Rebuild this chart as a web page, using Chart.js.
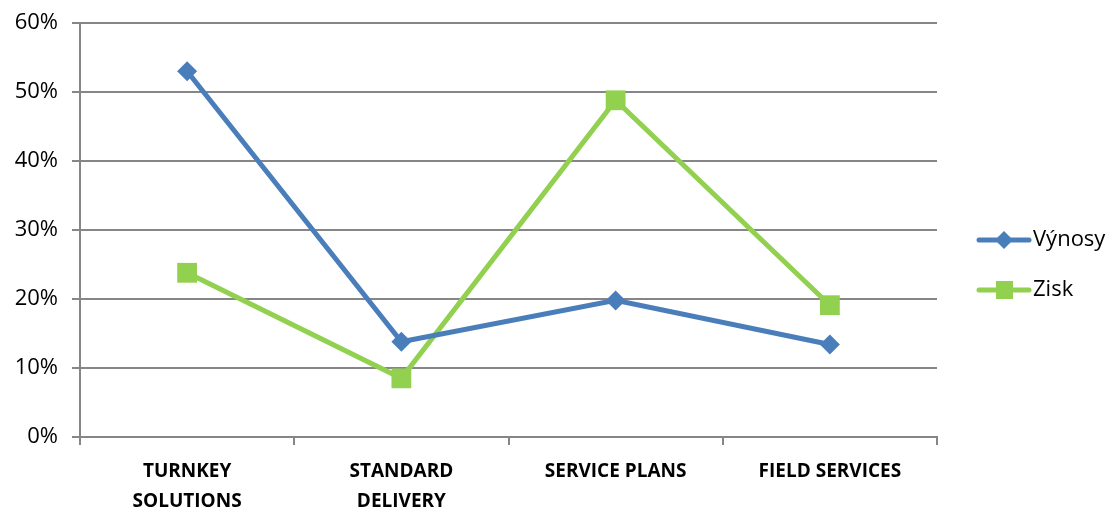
<!DOCTYPE html>
<html>
<head>
<meta charset="utf-8">
<script src="https://cdn.jsdelivr.net/npm/chart.js@4/dist/chart.umd.min.js"></script>
<style>
  html, body { margin: 0; padding: 0; background: #fff; }
  #wrap { width: 1116px; height: 513px; }
</style>
</head>
<body>
<div id="wrap"><canvas id="chart"></canvas></div>
<script>
// data
var categories = [["TURNKEY", "SOLUTIONS"], ["STANDARD", "DELIVERY"], "SERVICE PLANS", "FIELD SERVICES"];
var seriesNames = ["Výnosy", "Zisk"];
var vynosy = [53, 13.8, 19.8, 13.4];   // % revenue
var zisk = [23.8, 8.5, 48.8, 19.1];     // % profit
var yTicks = [0, 10, 20, 30, 40, 50, 60];

var blue = "#4A7EBB";
var green = "#92D050";
var gridCol = "#868686";
var fontFam = "'Open Sans', 'Liberation Sans', sans-serif";

// draws the excel-like legend on the right (line + marker + label)
var sideLegend = {
  id: "sideLegend",
  afterDraw: function (chart) {
    var ctx = chart.ctx;
    var ys = [240, 290];
    chart.data.datasets.forEach(function (ds, i) {
      var y = ys[i];
      ctx.save();
      ctx.strokeStyle = ds.borderColor;
      ctx.lineWidth = 5;
      ctx.lineCap = "round";
      ctx.beginPath();
      ctx.moveTo(979, y);
      ctx.lineTo(1029, y);
      ctx.stroke();
      ctx.fillStyle = ds.backgroundColor;
      if (ds.pointStyle === "rectRot") {
        ctx.beginPath();
        ctx.moveTo(1004, y - 9);
        ctx.lineTo(1013, y);
        ctx.lineTo(1004, y + 9);
        ctx.lineTo(995, y);
        ctx.closePath();
        ctx.fill();
      } else {
        ctx.fillRect(996, y - 9, 17, 18);
      }
      ctx.fillStyle = "#000";
      ctx.font = "22px " + fontFam;
      ctx.textBaseline = "middle";
      ctx.textAlign = "left";
      ctx.fillText(ds.label, 1033, y);
      ctx.restore();
    });
  }
};

new Chart(document.getElementById("chart"), {
  type: "line",
  data: {
    labels: categories,
    datasets: [
      {
        label: seriesNames[0],
        data: vynosy,
        borderColor: blue,
        backgroundColor: blue,
        borderWidth: 5,
        pointStyle: "rectRot",
        pointRadius: 10,
        pointHoverRadius: 10,
        pointBorderWidth: 0,
        tension: 0
      },
      {
        label: seriesNames[1],
        data: zisk,
        borderColor: green,
        backgroundColor: green,
        borderWidth: 5,
        pointStyle: "rect",
        pointRadius: 14,
        pointHoverRadius: 14,
        pointBorderWidth: 0,
        tension: 0
      }
    ]
  },
  options: {
    responsive: true,
    maintainAspectRatio: false,
    animation: false,
    layout: { padding: { top: 23, right: 179, left: 0, bottom: 0 } },
    plugins: {
      legend: { display: false },
      tooltip: { enabled: false }
    },
    scales: {
      x: {
        offset: true,
        grid: {
          offset: true,
          drawOnChartArea: false,
          drawTicks: true,
          tickLength: 8,
          color: gridCol,
          lineWidth: 2
        },
        border: { color: gridCol, width: 2 },
        ticks: {
          color: "#000",
          padding: 12,
          maxRotation: 0,
          font: { family: fontFam, size: 19, weight: "bold", lineHeight: 1.55 }
        },
        afterFit: function (s) { s.height = 76; s.paddingLeft = 0; s.paddingRight = 0; }
      },
      y: {
        min: 0,
        max: 60,
        afterBuildTicks: function (s) {
          s.ticks = yTicks.map(function (v) { return { value: v }; });
        },
        grid: {
          color: gridCol,
          lineWidth: 2,
          tickLength: 8
        },
        border: { color: gridCol, width: 2 },
        ticks: {
          color: "#000",
          padding: 14,
          font: { family: fontFam, size: 22 },
          callback: function (v) { return v + "%"; }
        },
        afterFit: function (s) { s.width = 80; s.paddingTop = 0; s.paddingBottom = 0; }
      }
    }
  },
  plugins: [sideLegend]
});
</script>
</body>
</html>
